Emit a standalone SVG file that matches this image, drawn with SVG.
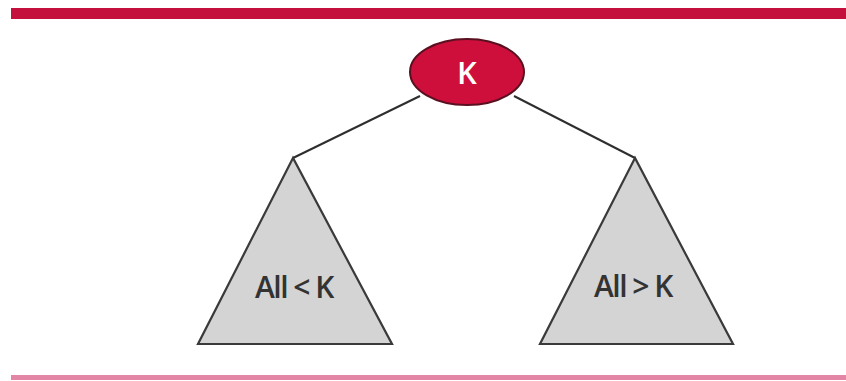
<svg xmlns="http://www.w3.org/2000/svg" width="846" height="381" viewBox="0 0 846 381">
<style>
.tri{fill:#d4d4d4;stroke:#3a3a3a;stroke-width:2.2;stroke-linejoin:miter}
.lbl{font-family:"Open Sans","Liberation Sans",sans-serif;font-size:30px;font-weight:600;fill:#333;text-anchor:middle;letter-spacing:-1.5px}
.edge{stroke:#2e2e2e;stroke-width:2;fill:none}
</style>
<rect x="11" y="8" width="835" height="11" fill="#c4103c"/>
<rect x="11" y="375" width="835" height="5" fill="#e385a4"/>
<g id="connectors">
<line class="edge" x1="420" y1="96" x2="293" y2="158"/>
<line class="edge" x1="514" y1="96" x2="635" y2="158"/>
</g>
<g id="root">
<ellipse cx="467" cy="72" rx="57" ry="33" fill="#cf0f3b" stroke="#5a1020" stroke-width="2"/>
<text x="467" y="84" font-family="Open Sans,Liberation Sans,sans-serif" font-size="31" font-weight="600" fill="#fff" text-anchor="middle">K</text>
</g>
<g id="left">
<polygon class="tri" points="293,158 198,344 392,344"/>
<text class="lbl" x="294" y="298">All &lt; K</text>
</g>
<g id="right">
<polygon class="tri" points="635,158 540,344 733,344"/>
<text class="lbl" x="633" y="297">All &gt; K</text>
</g>
</svg>
